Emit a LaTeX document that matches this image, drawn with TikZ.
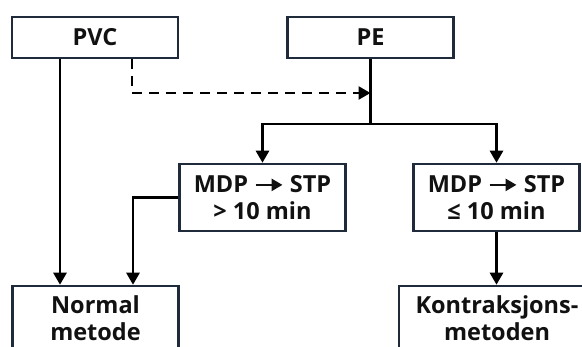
\documentclass[tikz,border=0pt]{standalone}
\usepackage{fontspec}
\setmainfont{Open Sans}
\usetikzlibrary{arrows.meta}

\definecolor{ramecek}{HTML}{1F2B3A}
\definecolor{pismo}{HTML}{111111}

% Sipka v textu uzlu
\newcommand{\sipka}{\tikz[baseline=0pt]\draw[line width=2.6pt,-{Triangle[length=11pt,width=12pt]}] (0pt,7.5pt) -- (27pt,7.5pt);}

\begin{document}
\begin{tikzpicture}[x=1pt, y=-1pt,
  krabice/.style={draw=ramecek, line width=2.5pt, fill=white, text=pismo,
    minimum width=166pt, minimum height=41pt, inner sep=0pt, align=center,
    font=\fontsize{23.5}{27}\selectfont\bfseries},
  vysoka/.style={minimum height=67pt},
  nizka/.style={minimum height=64pt},
  spoj/.style={line width=2.6pt, -{Triangle[length=12pt,width=13pt]}}]

\useasboundingbox (0,0) rectangle (582,347);
\clip (0,0) rectangle (582,347);

% Uzly
\node[krabice] (pvc) at (95,37.5) {PVC};
\node[krabice] (pe) at (370.5,37.5) {PE};
\node[krabice, vysoka] (mdpA) at (262.5,197.5) {MDP \sipka{} STP\\> 10 min};
\node[krabice, vysoka] (mdpB) at (496.5,197.5) {MDP \sipka{} STP\\≤ 10 min};
\node[krabice, nizka] (normal) at (95.5,318) {Normal\\metode};
\node[krabice, nizka, minimum width=196pt] (kontr) at (497,318) {Kontraksjons-\\metoden};

% Pomocne body
\coordinate (rozdel) at (370.5,124);
\coordinate (pripoj) at (370.5,93);

% Spojnice
\draw[spoj] ([xshift=-35pt]pvc.south) -- ([xshift=-35pt]pvc.south |- normal.north);
\draw[spoj, dash pattern=on 10pt off 7pt] ([xshift=37pt]pvc.south) |- (pripoj);
\draw[line width=2.6pt] (pe.south) -- (rozdel);
\draw[spoj] (rozdel) -| (mdpA.north);
\draw[spoj] (rozdel) -| (mdpB.north);
\draw[spoj] (mdpA.west) -| ([xshift=37.5pt]normal.north);
\draw[spoj] (mdpB.south) -- (mdpB.south |- kontr.north);

\end{tikzpicture}
\end{document}
